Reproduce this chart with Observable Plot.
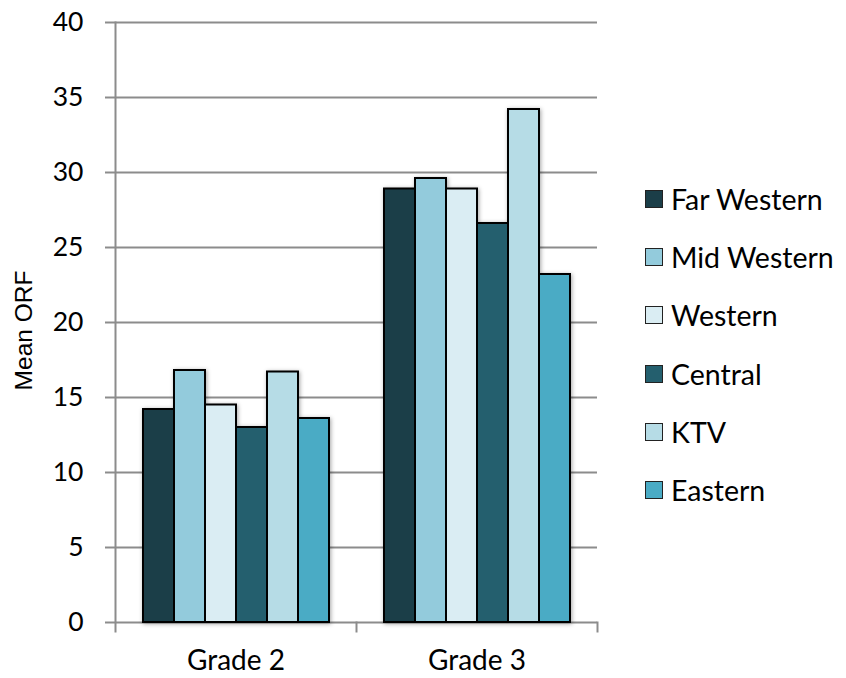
<!DOCTYPE html>
<html>
<head>
<meta charset="utf-8">
<script src="https://cdn.jsdelivr.net/npm/d3@7"></script>
<script src="https://cdn.jsdelivr.net/npm/@observablehq/plot@0.6"></script>
<style>
  body { margin: 0; background: #fff; }
  #chart { position: relative; width: 846px; height: 678px; }
  #chart svg g[aria-label="bar"] { filter: drop-shadow(1px 1px 2px rgba(0,0,0,0.35)); }
  .legend { position: absolute; left: 645px; top: 0; font-family: Lato, sans-serif; font-size: 28.5px; color: #000; }
  .legend .row { position: absolute; left: 0; height: 32px; display: flex; align-items: center; white-space: nowrap; }
  .legend .sw { width: 16px; height: 16px; border: 1.5px solid #222; margin-right: 8px; box-sizing: content-box; }
</style>
</head>
<body>
<div id="chart"></div>
<script>
// Mean oral reading fluency by grade and region
const grades = ["Grade 2", "Grade 3"];
const regions = ["Far Western", "Mid Western", "Western", "Central", "KTV", "Eastern"];
const grade2Values = [14.2, 16.8, 14.5, 13.0, 16.7, 13.6];
const grade3Values = [28.9, 29.6, 28.9, 26.6, 34.2, 23.2];
const regionColors = ["#1b3e48", "#93cbdc", "#daedf3", "#245f6e", "#b6dce6", "#4aabc5"];
const yTicks = [0, 5, 10, 15, 20, 25, 30, 35, 40];

const seriesByGrade = [grade2Values, grade3Values];
const rows = grades.flatMap((grade, gi) =>
  regions.map((region, ri) => ({grade, region, value: seriesByGrade[gi][ri]}))
);

const width = 846, height = 678;
const marginTop = 22, marginBottom = 56, marginLeft = 115, marginRight = 249;
const innerHeight = height - marginTop - marginBottom;
const axisColor = "#8c8c8c";

const chart = Plot.plot({
  width, height, marginTop, marginBottom, marginLeft, marginRight,
  style: {fontFamily: "Lato, sans-serif", fontSize: "26px", color: "#000", background: "#fff"},
  fx: {domain: grades, padding: 0},
  x: {domain: regions, paddingInner: 0, paddingOuter: 0.766, axis: null},
  y: {domain: [0, 40]},
  color: {domain: regions, range: regionColors},
  marks: [
    Plot.gridY(yTicks, {stroke: axisColor, strokeOpacity: 1, strokeWidth: 2}),
    // vertical value axis line, running slightly past zero
    Plot.frame({anchor: "left", facetAnchor: "left", stroke: axisColor, strokeWidth: 2, insetBottom: -9}),
    // category separator ticks under the baseline
    Plot.frame({anchor: "left", facetAnchor: "right", stroke: axisColor, strokeWidth: 2, insetTop: innerHeight, insetBottom: -9}),
    Plot.frame({anchor: "right", facetAnchor: "right", stroke: axisColor, strokeWidth: 2, insetTop: innerHeight, insetBottom: -9}),
    Plot.barY(rows, {fx: "grade", x: "region", y: "value", fill: "region", stroke: "#000", strokeWidth: 2}),
    Plot.axisY(yTicks, {tickSize: 10, tickPadding: 22, stroke: axisColor, strokeWidth: 2, fontSize: 26.5, label: null}),
    Plot.axisFx({anchor: "bottom", tickSize: 0, tickPadding: 28, fontSize: 28, label: null}),
    Plot.text(["Mean ORF"], {
      facetAnchor: "left", frameAnchor: "left", rotate: -90, dx: -91, dy: 8,
      textAnchor: "middle", fontFamily: "Liberation Sans, Arial, sans-serif", fontSize: 24.5
    })
  ]
});

const container = document.getElementById("chart");
container.appendChild(chart);

// legend on the right
const legend = d3.select(container).append("div").attr("class", "legend");
regions.forEach((region, i) => {
  const row = legend.append("div").attr("class", "row").style("top", `${183 + i * 58.2}px`);
  row.append("div").attr("class", "sw").style("background", regionColors[i]);
  row.append("span").text(region);
});
</script>
</body>
</html>
